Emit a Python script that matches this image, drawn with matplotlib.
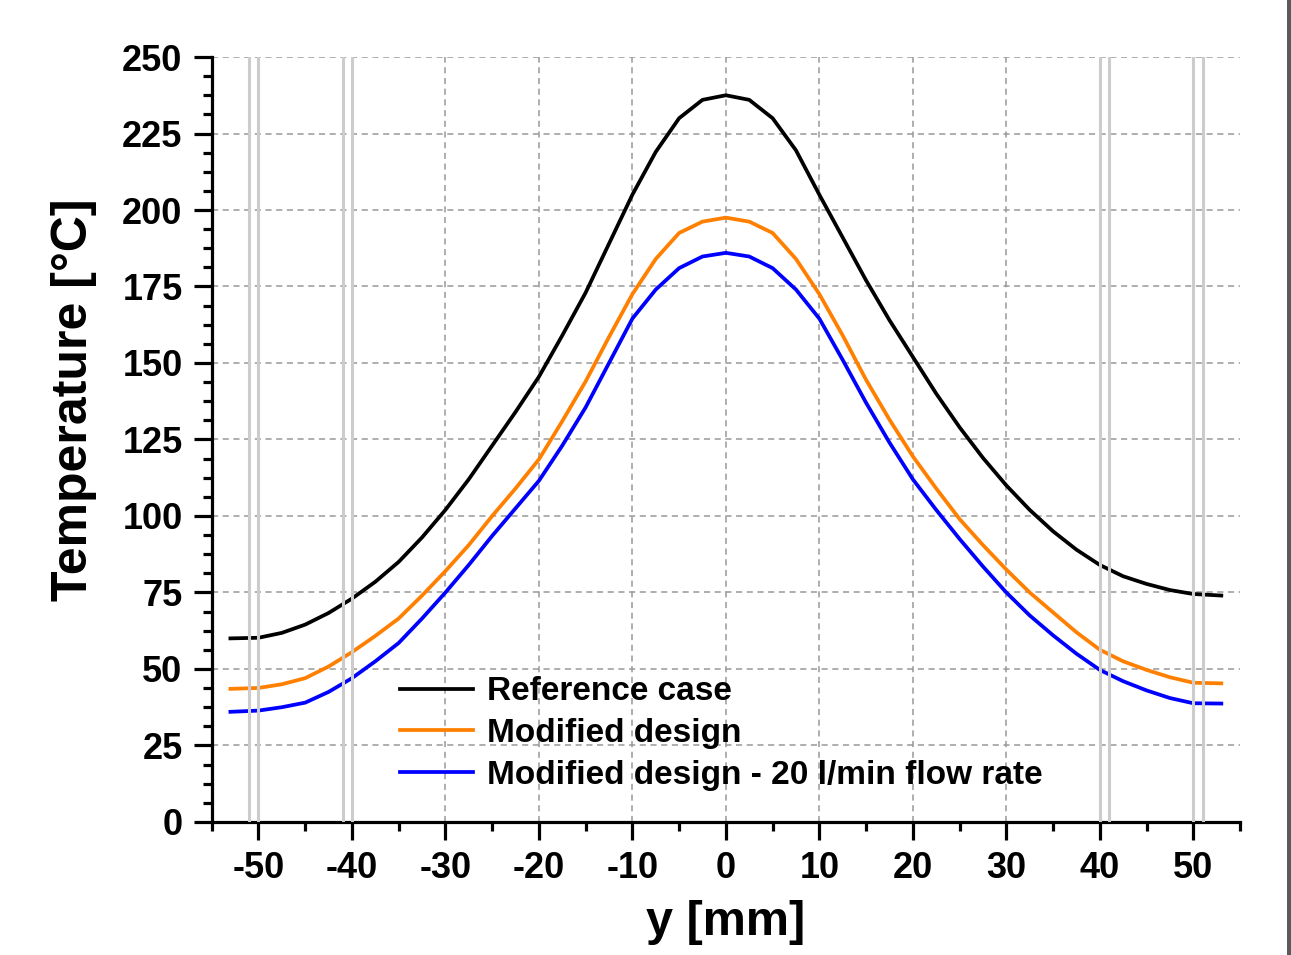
import matplotlib
matplotlib.use('Agg')
from matplotlib import pyplot as plt
from matplotlib.ticker import MultipleLocator, AutoMinorLocator
from matplotlib.patches import Rectangle

# position y [mm]
y_mm = [-53, -50, -47.5, -45, -42.5, -40, -37.5, -35, -32.5, -30, -27.5, -25, -22.5, -20,
        -17.5, -15, -12.5, -10, -7.5, -5, -2.5, 0, 2.5, 5, 7.5, 10, 12.5, 15, 17.5, 20,
        22.5, 25, 27.5, 30, 32.5, 35, 37.5, 40, 42.5, 45, 47.5, 50, 53]
# temperatures [°C]
t_reference = [60, 60.2, 61.8, 64.5, 68.3, 73, 78.5, 85, 93, 102, 112, 123, 134, 145.5,
               159, 173, 189, 205, 219, 230, 236, 237.5, 236, 230, 219.5, 205, 191, 177, 164, 152,
               140, 129, 119, 110, 102, 95, 89, 84, 80.3, 77.8, 75.8, 74.5, 74]
t_modified = [43.5, 43.8, 45, 47, 50.8, 55.5, 60.8, 66.5, 74, 82, 90.5, 100, 109, 118.5,
              131, 144, 158.5, 172.5, 184, 192.5, 196.2, 197.5, 196.2, 192.5, 184, 172.5, 159, 144.5, 131.5, 119.5,
              109, 99, 90.5, 82.5, 75, 68.5, 62, 56.3, 52.5, 49.7, 47.3, 45.5, 45.3]
t_modified_20 = [36, 36.4, 37.5, 39, 42.5, 47, 52.5, 58.5, 66.5, 75, 84, 93.5, 102.5, 111.5,
                 123, 135.5, 150, 164.5, 174, 181, 184.8, 186, 184.8, 181, 174, 164.5, 151, 137, 124, 112,
                 102, 92.5, 83.5, 75, 67.5, 61, 55, 49.7, 46, 43, 40.5, 38.8, 38.7]
labels = ['Reference case', 'Modified design', 'Modified design - 20 l/min flow rate']
colors = ['black', '#ff8000', '#0000ff']
# boundary markers
boundaries = [-51, -50, -41, -40, 40, 41, 50, 51]

plt.rcParams['font.family'] = ['Liberation Sans', 'DejaVu Sans']
plt.rcParams['font.weight'] = 'bold'
plt.rcParams['axes.unicode_minus'] = False

fig = plt.figure(figsize=(12.91, 9.55), dpi=100)
ax = fig.add_axes([0.164, 0.1393, 0.7965, 0.8010])

for series, lab, col in zip([t_reference, t_modified, t_modified_20], labels, colors):
    ax.plot(y_mm, series, color=col, lw=2.7, label=lab, zorder=3)

for b in boundaries:
    ax.axvline(b, color='#cccccc', lw=2.2, zorder=4)

ax.set_xlim(-55, 55)
ax.set_ylim(0, 250)
ax.xaxis.set_major_locator(MultipleLocator(10))
ax.xaxis.set_minor_locator(MultipleLocator(5))
ax.yaxis.set_major_locator(MultipleLocator(25))
ax.yaxis.set_minor_locator(AutoMinorLocator(4))

ax.grid(True, which='major', color='#999999', ls=(0, (4, 3)), lw=1.1, zorder=1)
ax.set_axisbelow(True)

for s in ['top', 'right']:
    ax.spines[s].set_visible(False)
for s in ['left', 'bottom']:
    ax.spines[s].set_linewidth(2.3)

ax.tick_params(which='major', direction='out', length=13, width=2.3, labelsize=26, pad=8)
ax.tick_params(which='minor', direction='out', length=6.5, width=2.3)

ax.set_xlabel('y [mm]', fontsize=35, fontweight='bold', labelpad=10)
ax.set_ylabel('Temperature [°C]', fontsize=36, fontweight='bold')
ax.yaxis.set_label_coords(-0.112, 0.552)

leg = ax.legend(loc='upper left', bbox_to_anchor=(0.167, 0.212), frameon=False,
                fontsize=24, handlelength=2.2, handletextpad=0.4, labelspacing=0.32,
                borderpad=0)
for line in leg.get_lines():
    line.set_linewidth(2.7)

# dark border strip on the right edge of the picture
fig.add_artist(Rectangle((1287 / 1291, 0), 4 / 1291, 1, transform=fig.transFigure,
                         color='#5a5a5a', lw=0))

fig.savefig('out.png', dpi=100)
